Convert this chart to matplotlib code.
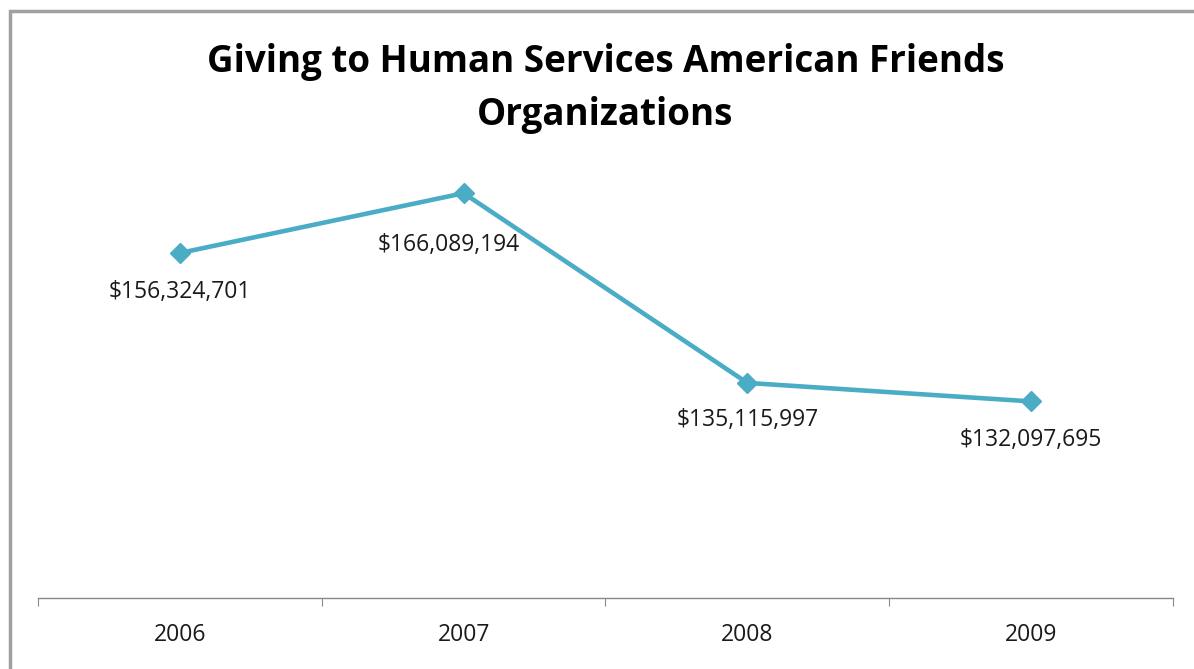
import matplotlib.pyplot as plt
from matplotlib.patches import Rectangle

years = ['2006', '2007', '2008', '2009']
giving = [156324701, 166089194, 135115997, 132097695]
# label offsets in points (dx, dy) relative to each marker
label_offsets = [(0, -28), (-11, -37), (0, -27), (0, -28)]

fig = plt.figure(figsize=(11.94, 6.69), dpi=100)
plt.rcParams['font.family'] = ['Open Sans', 'DejaVu Sans']

# chart frame
fig.patches.append(Rectangle((0.0085, -0.05), 1.2, 1.05 - 0.0165,
                             transform=fig.transFigure, fill=False,
                             edgecolor='#a0a0a0', linewidth=2.5))

ax = fig.add_axes([0.0318, 0.1061, 0.9506, 0.7325])
x = list(range(len(years)))
ax.plot(x, giving, color='#4BACC6', linewidth=3.3, marker='D', markersize=10,
        clip_on=False)

for xi, v, (dx, dy) in zip(x, giving, label_offsets):
    ax.annotate('${:,}'.format(v), (xi, v), xytext=(dx, dy),
                textcoords='offset points', ha='center', va='center',
                fontsize=16.5, color='#1a1a1a')

ax.set_xlim(-0.5, 3.5)
ax.set_ylim(100000000, 180000000)
ax.set_yticks([])
for s in ['top', 'right', 'left']:
    ax.spines[s].set_visible(False)
ax.spines['bottom'].set_color('#888888')
ax.spines['bottom'].set_linewidth(1)

ax.set_xticks([-0.5, 0.5, 1.5, 2.5, 3.5])
ax.set_xticklabels([])
ax.tick_params(axis='x', which='major', length=6, color='#888888')
ax.set_xticks(x, minor=True)
ax.set_xticklabels(years, minor=True, fontsize=16.5, color='#1a1a1a')
ax.tick_params(axis='x', which='minor', length=0, pad=18)

fig.text(0.507, 0.868, 'Giving to Human Services American Friends\nOrganizations',
         ha='center', va='center', fontsize=26.5, fontweight='bold',
         linespacing=1.5, color='#000000')

fig.savefig('out.png', dpi=100)
